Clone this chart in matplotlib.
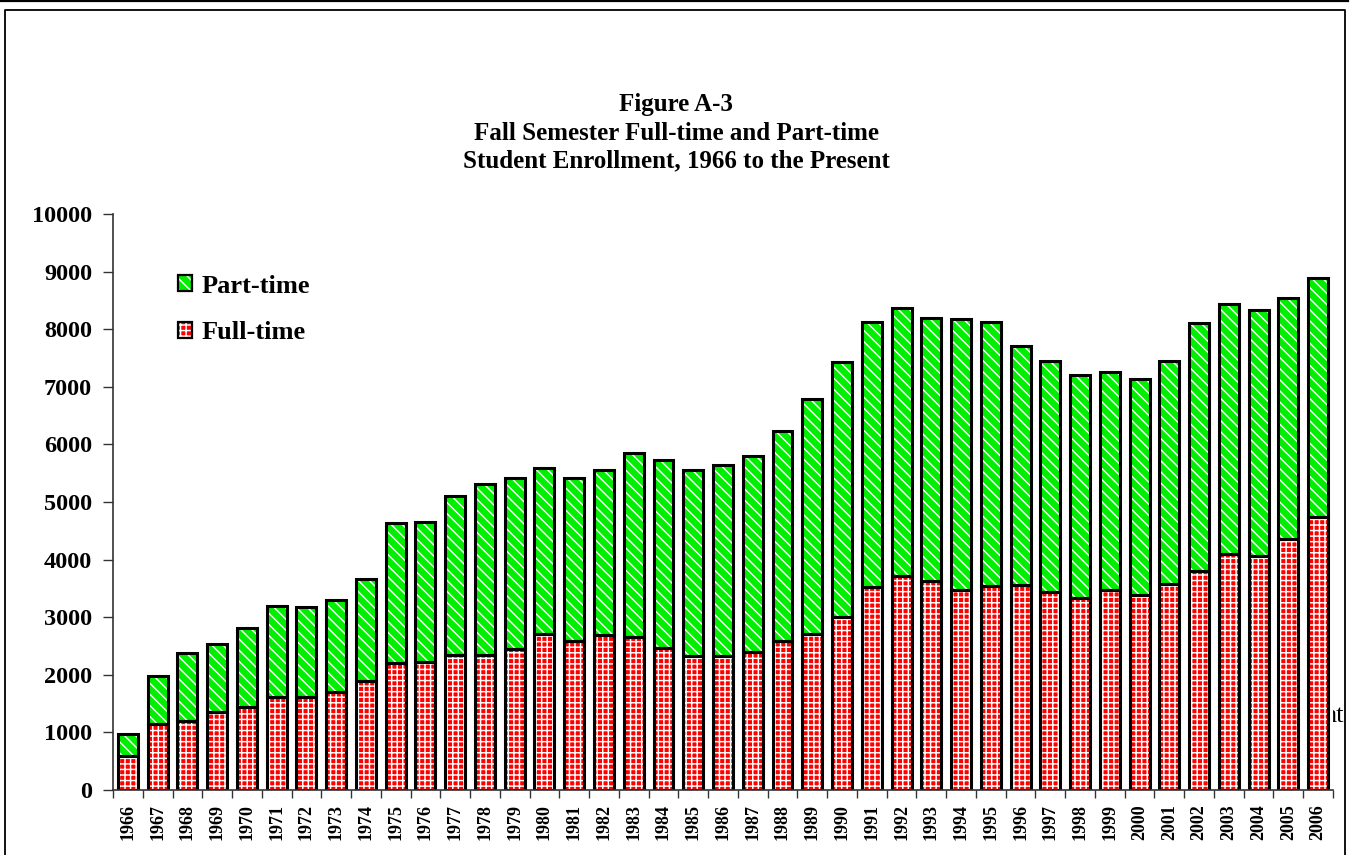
import matplotlib
matplotlib.use('Agg')
import matplotlib.pyplot as plt
import matplotlib.patches as mpatches
from matplotlib.lines import Line2D
from matplotlib.legend_handler import HandlerTuple
import numpy as np

years = list(range(1966, 2007))
total = [980, 1980, 2380, 2535, 2810, 3195, 3180, 3300, 3660, 4640,
         4650, 5100, 5320, 5420, 5590, 5420, 5550, 5850, 5730, 5550,
         5650, 5800, 6230, 6780, 7430, 8130, 8360, 8200, 8170, 8130,
         7710, 7450, 7200, 7260, 7140, 7450, 8100, 8440, 8330, 8540, 8890]
full_time = [590, 1145, 1200, 1355, 1440, 1615, 1615, 1700, 1900, 2210,
             2230, 2340, 2350, 2440, 2710, 2590, 2690, 2660, 2460, 2330,
             2330, 2400, 2590, 2700, 3010, 3520, 3710, 3620, 3480, 3540,
             3560, 3430, 3330, 3470, 3390, 3570, 3800, 4100, 4060, 4350, 4740]
part_time = [t - f for t, f in zip(total, full_time)]

plt.rcParams['font.family'] = ['Liberation Serif', 'DejaVu Serif']
plt.rcParams['hatch.linewidth'] = 1.05

W, H = 1355, 855
fig = plt.figure(figsize=(W / 100, H / 100), dpi=100)

# page frame
def fline(xs, ys, **kw):
    fig.add_artist(Line2D([x / W for x in xs], [1 - y / H for y in ys],
                          transform=fig.transFigure, color='black', **kw))

fline([0, 1348], [1, 1], lw=1.6)
fline([5, 5, 1345, 1345], [858, 10, 10, 858], lw=1.3)

# clipped stray text behind the plot area
fig.text(1344 / W, 1 - 716 / H, 'nt', ha='right', va='center',
         fontsize=19, zorder=-1)

ax = fig.add_axes([113 / W, 1 - 790 / H, (1333 - 113) / W, (790 - 214) / H])
ax.set_zorder(1)

x = np.arange(len(years))
bw = 0.67
GREEN = '#00ee00'
RED = '#ff0000'
FT_HATCH = '+++'
PT_HATCH = '\\\\\\'

ax.bar(x, full_time, bw, color=RED, hatch=FT_HATCH, edgecolor='white', linewidth=0)
ax.bar(x, part_time, bw, bottom=full_time, color=GREEN, hatch=PT_HATCH,
       edgecolor='white', linewidth=0)
ax.bar(x, full_time, bw, fill=False, edgecolor='black', linewidth=2.2)
ax.bar(x, part_time, bw, bottom=full_time, fill=False, edgecolor='black', linewidth=2.2)

ax.set_xlim(-0.5, len(years) - 0.5)
ax.set_ylim(0, 10000)
ax.set_yticks(range(0, 10001, 1000))
ax.set_xticks(x)
ax.set_xticklabels([str(y) for y in years], rotation=90, fontsize=13,
                   fontweight='bold')
ax.set_xticks(np.arange(-0.5, len(years)), minor=True)
ax.tick_params(axis='x', which='major', length=0, pad=10)
ax.tick_params(axis='x', which='minor', length=6, width=1, color='#333333')
ax.tick_params(axis='y', length=7, width=1, color='#333333', pad=8,
               labelsize=17.5)
for lab in ax.get_yticklabels():
    lab.set_fontweight('bold')

for s in ['top', 'right']:
    ax.spines[s].set_visible(False)
for s in ['left', 'bottom']:
    ax.spines[s].set_color('#333333')
    ax.spines[s].set_linewidth(1.2)

# legend
pt_fill = mpatches.Patch(facecolor=GREEN, hatch=PT_HATCH, edgecolor='white', linewidth=0)
ft_fill = mpatches.Patch(facecolor=RED, hatch=FT_HATCH, edgecolor='white', linewidth=0)
outline = mpatches.Patch(fill=False, edgecolor='black', linewidth=1.6)
leg = ax.legend([(pt_fill, outline), (ft_fill, outline)], ['Part-time', 'Full-time'],
                handler_map={tuple: HandlerTuple(ndivide=1)},
                loc='upper left', bbox_to_anchor=(0.0335, 0.936), frameon=False,
                prop={'weight': 'bold', 'size': 19}, handlelength=0.55,
                handleheight=0.55, handletextpad=0.35, labelspacing=0.9)

# titles
title_lines = ['Figure A-3', 'Fall Semester Full-time and Part-time',
               'Student Enrollment, 1966 to the Present']
for yy, t in zip([104, 133, 161], title_lines):
    fig.text(676 / W, 1 - yy / H, t, ha='center', va='center',
             fontsize=18, fontweight='bold')

fig.savefig('out.png', dpi=100)
